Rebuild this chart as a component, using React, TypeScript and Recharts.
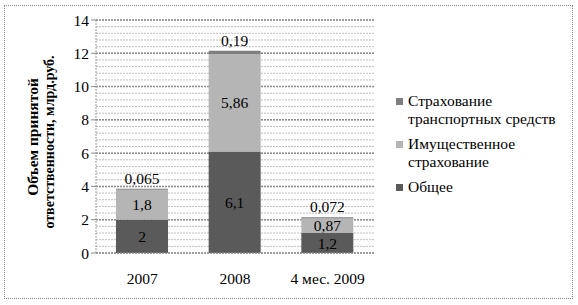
import React from 'react';
import { BarChart, Bar, XAxis, YAxis, CartesianGrid, LabelList } from 'recharts';

const categories = ['2007', '2008', '4 мес. 2009'];
const general = [2, 6.1, 1.2];
const property = [1.8, 5.86, 0.87];
const transport = [0.065, 0.19, 0.072];

const yMax = 14;
const majorTicks = [0, 2, 4, 6, 8, 10, 12, 14];
const minorTicks = Array.from({ length: 36 }, (_, i) => Math.round(i * 0.4 * 10) / 10);

const data = categories.map((name, i) => ({
  name,
  general: general[i],
  property: property[i],
  transport: transport[i],
}));

const fmt = (v: any) => String(v).replace('.', ',');
const font = "'Times New Roman', 'Liberation Serif', serif";

const legendItems = [
  { color: '#7f7f7f', lines: ['Страхование', 'транспортных средств'] },
  { color: '#b5b5b5', lines: ['Имущественное', 'страхование'] },
  { color: '#5a5a5a', lines: ['Общее'] },
];

// minor grid every 0.4, mapped with the same linear domain as the y axis
const minorGen = (args: any) => {
  const s = args?.yAxis?.scale;
  if (typeof s === 'function') return minorTicks.map((t) => s(t));
  const { top, height } = args.offset;
  return minorTicks.map((t) => top + height * (1 - t / yMax));
};

export default function App() {
  return (
    <div
      style={{
        position: 'absolute',
        left: 0,
        top: 0,
        width: 578,
        height: 305,
        background: '#fff',
        fontFamily: font,
      }}
    >
      <div
        style={{
          position: 'absolute',
          left: 4,
          top: 5,
          width: 567,
          height: 292,
          border: '1px dotted #8a8a8a',
        }}
      />
      <svg style={{ position: 'absolute', left: 0, top: 0 }} width={100} height={305}>
        <text
          transform="translate(38,137) rotate(-90)"
          textAnchor="middle"
          style={{ fontFamily: font }}
          fontWeight="bold"
          fontSize={15.5}
        >
          Объем принятой
        </text>
        <text
          transform="translate(54,142) rotate(-90)"
          textAnchor="middle"
          style={{ fontFamily: font }}
          fontWeight="bold"
          fontSize={14}
        >
          ответственности, млрд.руб.
        </text>
      </svg>
      <div style={{ position: 'absolute', left: 396, top: 92, fontSize: 15.5, lineHeight: '18px', color: '#000', fontFamily: font }}>
        {legendItems.map((it) => (
          <div key={it.lines[0]} style={{ display: 'flex', marginBottom: 7 }}>
            <div style={{ width: 7, height: 7, background: it.color, marginTop: 6, marginRight: 5 }} />
            <div>
              {it.lines.map((l) => (
                <div key={l}>{l}</div>
              ))}
            </div>
          </div>
        ))}
      </div>
      <BarChart
        width={578}
        height={305}
        data={data}
        margin={{ top: 20, right: 204, bottom: 0, left: 0 }}
        style={{ position: 'absolute', left: 0, top: 0, fontFamily: font }}
      >
        <CartesianGrid
          vertical={false}
          stroke="#bdbdbd"
          strokeDasharray="2 1"
          horizontalCoordinatesGenerator={minorGen}
        />
        <CartesianGrid vertical={false} stroke="#8c8c8c" strokeWidth={1.5} strokeDasharray="2 1" />
        <XAxis
          dataKey="name"
          axisLine={{ stroke: '#9a9a9a', strokeDasharray: '2 1' }}
          tickLine={false}
          tick={{ fill: '#000', fontSize: 15.5, style: { fontFamily: font } }}
          tickMargin={14}
          height={52}
        />
        <YAxis
          width={96}
          domain={[0, yMax]}
          ticks={majorTicks}
          axisLine={{ stroke: '#9a9a9a', strokeDasharray: '2 1' }}
          tickLine={{ stroke: '#8c8c8c' }}
          tickSize={5}
          tick={{ fill: '#000', fontSize: 15.5, style: { fontFamily: font } }}
        />
        <Bar dataKey="general" stackId="a" fill="#5a5a5a" barSize={52} isAnimationActive={false}>
          <LabelList dataKey="general" position="center" formatter={fmt} fill="#000" fontSize={15.5} style={{ fontFamily: font }} />
        </Bar>
        <Bar dataKey="property" stackId="a" fill="#b5b5b5" barSize={52} isAnimationActive={false}>
          <LabelList dataKey="property" position="center" formatter={fmt} fill="#000" fontSize={15.5} style={{ fontFamily: font }} />
        </Bar>
        <Bar dataKey="transport" stackId="a" fill="#7f7f7f" barSize={52} isAnimationActive={false}>
          <LabelList dataKey="transport" position="top" offset={5} formatter={fmt} fill="#000" fontSize={15.5} style={{ fontFamily: font }} />
        </Bar>
      </BarChart>
    </div>
  );
}
